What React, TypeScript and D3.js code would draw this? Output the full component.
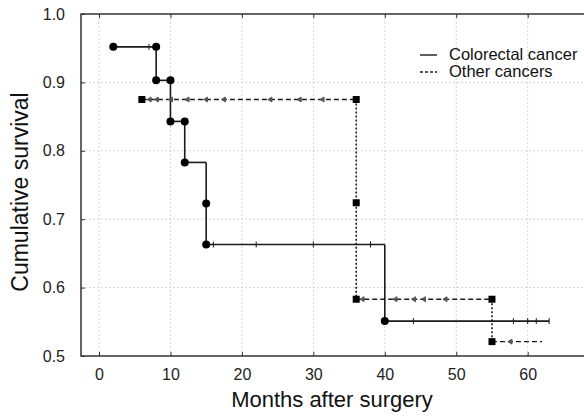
import * as d3 from 'd3';
import React, { useRef, useEffect } from 'react';

// colorectal cancer: step times / survival after each event
const crTimes = [2, 8, 10, 12, 15, 15, 40];
const crSurv = [0.952, 0.903, 0.843, 0.783, 0.723, 0.663, 0.551];
const crEnd = 63;
// filled circles (complete observations)
const crMarkT = [2, 8, 8, 10, 10, 12, 12, 15, 15, 40];
const crMarkS = [0.952, 0.952, 0.903, 0.903, 0.843, 0.843, 0.783, 0.723, 0.663, 0.551];
// censored
const crCensT = [7, 16, 22, 30, 38, 44, 58, 60, 61.2, 63];
const crCensS = [0.952, 0.663, 0.663, 0.663, 0.663, 0.551, 0.551, 0.551, 0.551, 0.551];

// other cancers
const ocTimes = [6, 36, 36, 55];
const ocSurv = [0.875, 0.724, 0.583, 0.521];
const ocEnd = 62;
const ocMarkT = [6, 36, 36, 36, 55, 55];
const ocMarkS = [0.875, 0.875, 0.724, 0.583, 0.583, 0.521];
const ocCensT = [7, 8, 10, 12.3, 14.9, 17.4, 23.9, 28, 31.2, 36.8, 41.4, 44, 45.4, 48.4, 57.5];
const ocCensS = [0.875, 0.875, 0.875, 0.875, 0.875, 0.875, 0.875, 0.875, 0.875, 0.583, 0.583, 0.583, 0.583, 0.583, 0.521];

const xTicks = [0, 10, 20, 30, 40, 50, 60];
const yTicks = [0.5, 0.6, 0.7, 0.8, 0.9, 1.0];
const seriesNames = ['Colorectal cancer', 'Other cancers'];

function stepSegments(times, surv, end) {
    // returns horizontal and vertical segments of a KM step curve
    const h = [], v = [];
    for (let i = 0; i < times.length; i++) {
        const next = i < times.length - 1 ? times[i + 1] : end;
        if (next > times[i]) h.push([times[i], surv[i], next, surv[i]]);
        if (i < times.length - 1) v.push([next, surv[i], next, surv[i + 1]]);
    }
    return { h, v };
}

function App() {
    const ref = useRef(null);

    useEffect(() => {
        const width = 584, height = 416;
        const left = 81, right = 590, top = 14, bottom = 356;

        const svg = d3.select(ref.current);
        svg.selectAll('*').remove();

        const x = d3.scaleLinear().domain([0, 60]).range([99, 527.7]);
        const y = d3.scaleLinear().domain([0.5, 1.0]).range([bottom, top]);

        // grid
        const grid = svg.append('g');
        grid.selectAll('.vg').data(xTicks).enter().append('line')
            .attr('x1', d => x(d)).attr('x2', d => x(d))
            .attr('y1', top).attr('y2', bottom)
            .attr('stroke', '#d4d4d4').attr('stroke-dasharray', '2,2');
        grid.selectAll('.hg').data(yTicks.slice(1, -1)).enter().append('line')
            .attr('x1', left).attr('x2', right)
            .attr('y1', d => y(d)).attr('y2', d => y(d))
            .attr('stroke', '#d4d4d4').attr('stroke-dasharray', '2,2');

        // frame
        svg.append('rect')
            .attr('x', left).attr('y', top)
            .attr('width', right - left).attr('height', bottom - top)
            .attr('fill', 'none').attr('stroke', '#333').attr('stroke-width', 1.5);

        const font = 'Liberation Sans, Arial, sans-serif';

        // axes with inward ticks
        const xAxis = d3.axisBottom(x).tickValues(xTicks).tickSize(-4).tickPadding(10).tickFormat(d3.format('d'));
        const gx = svg.append('g').attr('transform', `translate(0,${bottom})`).call(xAxis);
        const xAxisTop = d3.axisTop(x).tickValues(xTicks).tickSize(-4).tickFormat(() => '');
        const gxt = svg.append('g').attr('transform', `translate(0,${top})`).call(xAxisTop);
        const yAxis = d3.axisLeft(y).tickValues(yTicks).tickSize(-4).tickPadding(16).tickFormat(d3.format('.1f'));
        const gy = svg.append('g').attr('transform', `translate(${left},0)`).call(yAxis);

        [gx, gxt, gy].forEach(g => {
            g.select('.domain').remove();
            g.selectAll('line').attr('stroke', '#333');
            g.selectAll('text').attr('font-family', font).attr('font-size', 16).attr('fill', '#222');
        });
        gx.selectAll('text').attr('dy', '0.9em');

        // axis titles
        svg.append('text')
            .attr('x', 332).attr('y', 407)
            .attr('text-anchor', 'middle')
            .attr('font-family', font).attr('font-size', 22).attr('fill', '#111')
            .text('Months after surgery');
        svg.append('text')
            .attr('transform', 'translate(28,192) rotate(-90)')
            .attr('text-anchor', 'middle')
            .attr('font-family', font).attr('font-size', 23).attr('fill', '#111')
            .text('Cumulative survival');

        const ink = '#1a1a1a';

        // colorectal cancer (solid)
        const cr = stepSegments(crTimes, crSurv, crEnd);
        svg.append('g').selectAll('line').data([...cr.h, ...cr.v]).enter().append('line')
            .attr('x1', d => x(d[0])).attr('y1', d => y(d[1]))
            .attr('x2', d => x(d[2])).attr('y2', d => y(d[3]))
            .attr('stroke', ink).attr('stroke-width', 1.6);
        svg.append('g').selectAll('line').data(crCensT).enter().append('line')
            .attr('x1', d => x(d)).attr('x2', d => x(d))
            .attr('y1', (d, i) => y(crCensS[i]) - 3).attr('y2', (d, i) => y(crCensS[i]) + 3)
            .attr('stroke', ink).attr('stroke-width', 1);
        svg.append('g').selectAll('circle').data(crMarkT).enter().append('circle')
            .attr('cx', d => x(d)).attr('cy', (d, i) => y(crMarkS[i]))
            .attr('r', 4).attr('fill', '#000');

        // other cancers (dashed horizontals, dotted verticals)
        const oc = stepSegments(ocTimes, ocSurv, ocEnd);
        svg.append('g').selectAll('line').data(oc.h).enter().append('line')
            .attr('x1', d => x(d[0])).attr('y1', d => y(d[1]))
            .attr('x2', d => x(d[2])).attr('y2', d => y(d[3]))
            .attr('stroke', ink).attr('stroke-width', 1.4).attr('stroke-dasharray', '5,3');
        svg.append('g').selectAll('line').data(oc.v).enter().append('line')
            .attr('x1', d => x(d[0])).attr('y1', d => y(d[1]))
            .attr('x2', d => x(d[2])).attr('y2', d => y(d[3]))
            .attr('stroke', ink).attr('stroke-width', 1.6).attr('stroke-dasharray', '2,2');
        svg.append('g').selectAll('path').data(ocCensT).enter().append('path')
            .attr('d', (d, i) => {
                const px = x(d), py = y(ocCensS[i]);
                return `M${px - 2},${py} L${px + 2},${py - 2.5} L${px + 2},${py + 2.5} Z M${px + 2},${py - 2.5} L${px + 2},${py + 2.5}`;
            })
            .attr('fill', '#555').attr('stroke', '#555').attr('stroke-width', 0.8);
        svg.append('g').selectAll('rect').data(ocMarkT).enter().append('rect')
            .attr('x', d => x(d) - 3.5).attr('y', (d, i) => y(ocMarkS[i]) - 3.5)
            .attr('width', 7).attr('height', 7).attr('fill', '#000');

        // legend
        const legend = svg.append('g');
        const dashes = [null, '3,2'];
        seriesNames.forEach((name, i) => {
            const ly = 55 + i * 17;
            legend.append('line')
                .attr('x1', 420).attr('x2', 437).attr('y1', ly).attr('y2', ly)
                .attr('stroke', ink).attr('stroke-width', 1.4)
                .attr('stroke-dasharray', dashes[i]);
            legend.append('text')
                .attr('x', 449).attr('y', ly + 5)
                .attr('font-family', font).attr('font-size', 16.5).attr('fill', '#111')
                .text(name);
        });
    }, []);

    return (
        <svg ref={ref} width={584} height={416}
             style={{ position: 'absolute', left: 0, top: 0, background: '#fff' }} />
    );
}

export default App;
